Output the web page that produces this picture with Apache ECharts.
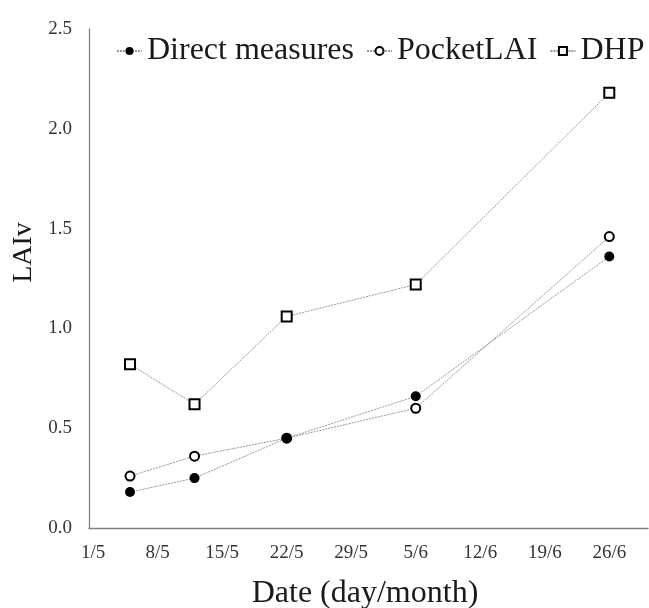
<!DOCTYPE html>
<html>
<head>
<meta charset="utf-8">
<script src="https://cdn.jsdelivr.net/npm/echarts@6/dist/echarts.min.js"></script>
<style>
html,body{margin:0;padding:0;background:#fff;}
#chart{width:649px;height:608px;}
</style>
</head>
<body>
<div id="chart"></div>
<script>
// Sampling dates (day/month)
var dates = ['5/5', '12/5', '22/5', '5/6', '26/6'];
var directMeasures = [0.18, 0.25, 0.45, 0.66, 1.36];
var pocketLAI = [0.26, 0.36, 0.45, 0.60, 1.46];
var dhp = [0.82, 0.62, 1.06, 1.22, 2.18];
var xTickLabels = ['1/5', '8/5', '15/5', '22/5', '29/5', '5/6', '12/6', '19/6', '26/6'];
var yTicks = [0, 0.5, 1.0, 1.5, 2.0, 2.5];

// convert "d/m" into days since 1 May
var monthStart = {5: 0, 6: 31, 7: 61};
function dayOf(s) {
  var p = s.split('/');
  return monthStart[+p[1]] + (+p[0]) - 1;
}
var xTickDays = xTickLabels.map(dayOf);
function pts(vals) { return dates.map(function (d, i) { return [dayOf(d), vals[i]]; }); }

var font = '"Liberation Serif", "Times New Roman", serif';
var lineStyle = { color: '#9a9a9a', width: 1, type: [2, 1] };

var chart = echarts.init(document.getElementById('chart'), null, { renderer: 'canvas' });
chart.setOption({
  animation: false,
  backgroundColor: '#ffffff',
  textStyle: { fontFamily: font },
  grid: { left: 89, right: 1, top: 29, bottom: 80, containLabel: false, outerBoundsMode: 'none' },
  legend: {
    left: 111,
    top: 30,
    width: 600,
    itemWidth: 25,
    itemHeight: 10,
    itemGap: 12,
    textStyle: { fontFamily: font, fontSize: 32, color: '#1a1a1a' },
    data: ['Direct measures', 'PocketLAI', 'DHP']
  },
  xAxis: {
    type: 'value',
    min: -0.45,
    max: 60.2,
    name: 'Date (day/month)',
    nameLocation: 'middle',
    nameGap: 50,
    nameTextStyle: { fontFamily: font, fontSize: 32, color: '#1a1a1a', padding: [0, 7, 0, 0] },
    axisLine: { show: true, onZero: false, lineStyle: { color: '#808080', width: 1.3 } },
    axisTick: { show: false },
    splitLine: { show: false },
    axisLabel: {
      customValues: xTickDays,
      formatter: function (v) {
        var i = xTickDays.indexOf(Math.round(v));
        return i >= 0 ? xTickLabels[i] : '';
      },
      margin: 16,
      fontFamily: font,
      fontSize: 19,
      color: '#333333'
    }
  },
  yAxis: {
    type: 'value',
    min: 0,
    max: 2.5,
    interval: 0.5,
    name: 'LAIv',
    nameLocation: 'middle',
    nameGap: 49,
    nameRotate: 90,
    nameTextStyle: { fontFamily: font, fontSize: 28, color: '#1a1a1a', padding: [0, 0, 0, 52] },
    axisLine: { show: true, onZero: false, lineStyle: { color: '#808080', width: 1.3 } },
    axisTick: { show: false },
    splitLine: { show: false },
    axisLabel: {
      customValues: yTicks,
      formatter: function (v) { return v.toFixed(1); },
      margin: 17,
      fontFamily: font,
      fontSize: 19,
      color: '#333333'
    }
  },
  series: [
    {
      name: 'Direct measures',
      type: 'line',
      z: 5,
      data: pts(directMeasures),
      symbol: 'circle',
      symbolSize: 10,
      itemStyle: { color: '#000000', borderColor: '#000000', borderWidth: 0 },
      lineStyle: lineStyle
    },
    {
      name: 'PocketLAI',
      type: 'line',
      z: 3,
      data: pts(pocketLAI),
      symbol: 'circle',
      symbolSize: 9,
      itemStyle: { color: '#ffffff', borderColor: '#000000', borderWidth: 2 },
      lineStyle: lineStyle
    },
    {
      name: 'DHP',
      type: 'line',
      z: 3,
      data: pts(dhp),
      symbol: 'rect',
      symbolSize: 10,
      itemStyle: { color: '#ffffff', borderColor: '#000000', borderWidth: 2 },
      lineStyle: lineStyle
    }
  ]
});
</script>
</body>
</html>
